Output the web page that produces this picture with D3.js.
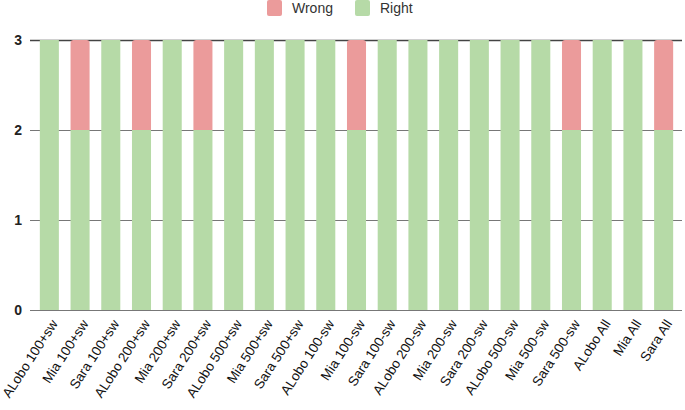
<!DOCTYPE html>
<html>
<head>
<meta charset="utf-8">
<script src="https://cdn.jsdelivr.net/npm/d3@7"></script>
<style>
  body { margin: 0; background: #fff; }
  text { font-family: "Liberation Sans", Arial, sans-serif; }
</style>
</head>
<body>
<div class="canvas"></div>
<script>
const categories = [
    'ALobo 100+sw', 'Mia 100+sw', 'Sara 100+sw',
    'ALobo 200+sw', 'Mia 200+sw', 'Sara 200+sw',
    'ALobo 500+sw', 'Mia 500+sw', 'Sara 500+sw',
    'ALobo 100-sw', 'Mia 100-sw', 'Sara 100-sw',
    'ALobo 200-sw', 'Mia 200-sw', 'Sara 200-sw',
    'ALobo 500-sw', 'Mia 500-sw', 'Sara 500-sw',
    'ALobo All', 'Mia All', 'Sara All'
];
const right = [3, 2, 3, 2, 3, 2, 3, 3, 3, 3, 2, 3, 3, 3, 3, 3, 3, 2, 3, 3, 2];
const wrong = [0, 1, 0, 1, 0, 1, 0, 0, 0, 0, 1, 0, 0, 0, 0, 0, 0, 1, 0, 0, 1];
const seriesNames = ['Wrong', 'Right'];
const yTicks = [0, 1, 2, 3];

const dimensions = { width: 685, height: 410 };
const margin = { top: 40, right: 6, bottom: 100, left: 34 };

const color = d3.scaleOrdinal()
    .domain(seriesNames)
    .range(['#eb9b9b', '#b6daa7']);

const svg = d3.select('.canvas')
    .append('svg')
    .attr('width', dimensions.width)
    .attr('height', dimensions.height);

const x = d3.scaleBand()
    .domain(categories)
    .range([margin.left, dimensions.width - margin.right])
    .paddingInner(0.38)
    .paddingOuter(0.19);

const y = d3.scaleLinear()
    .domain([0, 3])
    .range([dimensions.height - margin.bottom, margin.top]);

// gridlines + y labels
const yAxis = svg.append('g')
    .attr('transform', `translate(${margin.left - 4}, 0)`)
    .call(d3.axisLeft(y).tickValues(yTicks).tickSize(-(dimensions.width - margin.left + 1)).tickFormat(d3.format('d')));
yAxis.select('.domain').remove();
yAxis.selectAll('line')
    .attr('stroke', d => d === 3 ? '#444' : '#777')
    .attr('stroke-width', d => d === 3 ? 1.5 : 1.2);
yAxis.selectAll('text')
    .attr('x', -8)
    .attr('font-size', 14)
    .attr('font-weight', 'bold')
    .attr('fill', '#222');

// stacked data
const rows = categories.map((c, i) => ({ name: c, Right: right[i], Wrong: wrong[i] }));
const stack = d3.stack().keys(['Right', 'Wrong']);
const layers = stack(rows);

svg.append('g')
    .selectAll('g')
    .data(layers)
    .join('g')
    .attr('fill', d => color(d.key))
    .selectAll('path')
    .data(d => d.filter(p => p[1] > p[0]).map(p => ({ p, key: d.key })))
    .join('path')
    .attr('d', d => {
        const x0 = x(d.p.data.name), w = x.bandwidth();
        const top = y(d.p[1]), bot = y(d.p[0]);
        const r = d.key === 'Wrong' ? 3 : 0;
        return `M${x0},${bot}V${top + r}Q${x0},${top} ${x0 + r},${top}H${x0 + w - r}Q${x0 + w},${top} ${x0 + w},${top + r}V${bot}Z`;
    });

// x labels
svg.append('g')
    .selectAll('text')
    .data(categories)
    .join('text')
    .attr('transform', d => `translate(${x(d) + x.bandwidth() / 2 + 5}, ${y(0) + 11}) rotate(-57)`)
    .attr('text-anchor', 'end')
    .attr('dy', '0.35em')
    .attr('font-size', 13.5)
    .attr('fill', '#111')
    .text(d => d);

// legend
const legend = svg.append('g');
const legendItems = [
    { name: 'Wrong', x: 267 },
    { name: 'Right', x: 355 }
];
legend.selectAll('rect')
    .data(legendItems)
    .join('rect')
    .attr('x', d => d.x)
    .attr('y', 0)
    .attr('width', 15)
    .attr('height', 16)
    .attr('rx', 2)
    .attr('fill', d => color(d.name));
legend.selectAll('text')
    .data(legendItems)
    .join('text')
    .attr('x', d => d.x + 25)
    .attr('y', 8)
    .attr('dy', '0.35em')
    .attr('font-size', 14)
    .attr('fill', '#333')
    .text(d => d.name);
</script>
</body>
</html>
